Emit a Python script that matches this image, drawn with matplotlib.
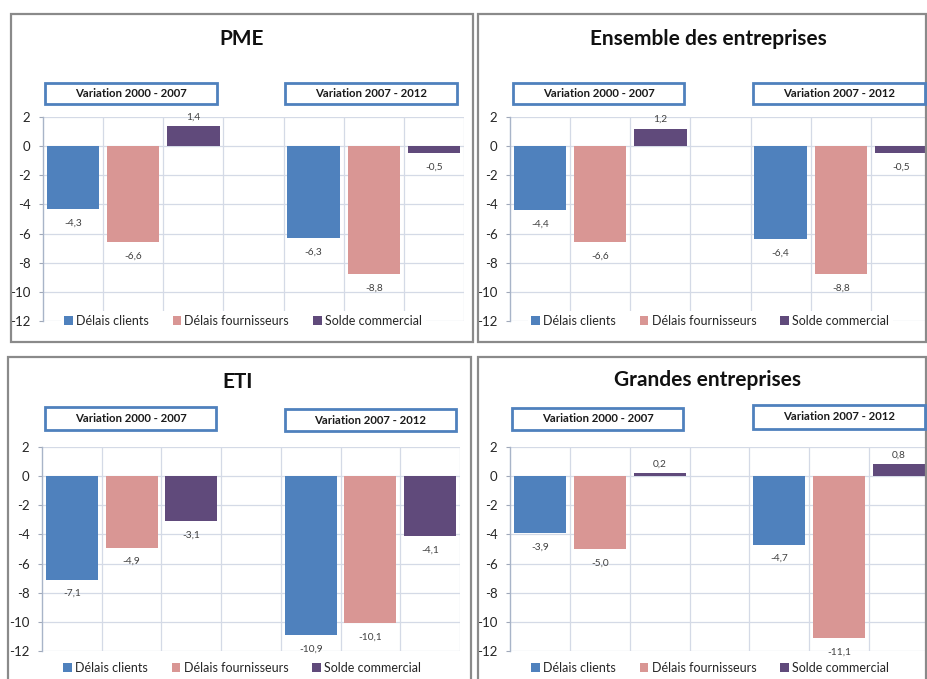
import matplotlib.pyplot as plt
from matplotlib.patches import Rectangle, Patch

plt.rcParams['font.family'] = ['Lato', 'DejaVu Sans']

W, H = 927, 679

series = ["Délais clients", "Délais fournisseurs", "Solde commercial"]
colors = ["#4f81bd", "#d99694", "#604a7b"]
periods = ["Variation 2000 - 2007", "Variation 2007 - 2012"]
yticks = [2, 0, -2, -4, -6, -8, -10, -12]

# three series per period: clients, fournisseurs, solde
pme = [-4.3, -6.6, 1.4, -6.3, -8.8, -0.5]
ensemble = [-4.4, -6.6, 1.2, -6.4, -8.8, -0.5]
eti = [-7.1, -4.9, -3.1, -10.9, -10.1, -4.1]
grandes = [-3.9, -5.0, 0.2, -4.7, -11.1, 0.8]

# layout in pixels (x0, y0, x1, y1), measured from the top-left corner
panels = [
    dict(title="PME", values=pme, border=(11, 14, 473, 342),
         plot=(43, 117, 464, 321), title_xy=(242, 39),
         boxes=[(45, 83, 217, 104), (285, 83, 457, 104)], legend_y=321, legend_x=243),
    dict(title="Ensemble des entreprises", values=ensemble, border=(478, 14, 926, 342),
         plot=(510, 117, 931, 321), title_xy=(708, 39),
         boxes=[(513, 83, 684, 104), (753, 83, 925, 104)], legend_y=321, legend_x=710),
    dict(title="ETI", values=eti, border=(8, 357, 471, 690),
         plot=(42, 447, 460, 651), title_xy=(238, 382),
         boxes=[(45, 407, 216, 430), (285, 409, 456, 431)], legend_y=668, legend_x=242),
    dict(title="Grandes entreprises", values=grandes, border=(478, 357, 926, 690),
         plot=(510, 447, 929, 651), title_xy=(707, 380),
         boxes=[(512, 408, 683, 430), (753, 405, 925, 429)], legend_y=668, legend_x=710),
]

positions = [0, 1, 2, 4, 5, 6]
bar_colors = colors + colors


def fx(x):
    return x / W


def fy(y):
    return 1 - y / H


def fmt(v):
    return f"{v:.1f}".replace(".", ",")


fig = plt.figure(figsize=(W / 100, H / 100), dpi=100)

for p in panels:
    bx0, by0, bx1, by1 = p["border"]
    fig.patches.append(Rectangle((fx(bx0), fy(by1)), fx(bx1 - bx0), (by1 - by0) / H,
                                 transform=fig.transFigure, fill=False,
                                 edgecolor="#8a8a8a", linewidth=1.6, zorder=0))

    x0, y0, x1, y1 = p["plot"]
    ax = fig.add_axes([fx(x0), fy(y1), fx(x1 - x0), (y1 - y0) / H])
    ax.set_xlim(-0.5, 6.5)
    ax.set_ylim(-12, 2)

    bars = ax.bar(positions, p["values"], width=0.87, color=bar_colors, zorder=3)
    for b, v in zip(bars, p["values"]):
        off = 9 if v >= 0 else -14
        ax.annotate(fmt(v), (b.get_x() + b.get_width() / 2, v),
                    xytext=(0, off), textcoords="offset pixels",
                    ha="center", va="center", fontsize=7.3, color="#404040", zorder=4)

    ax.set_xticks([0.5, 1.5, 2.5, 3.5, 4.5, 5.5, 6.5])
    ax.set_xticklabels([])
    ax.set_yticks(yticks)
    ax.set_yticklabels([str(t) for t in yticks])
    ax.tick_params(axis="x", length=0)
    ax.tick_params(axis="y", length=3, color="#a0a8b8", labelsize=9.5,
                   labelcolor="#262626", pad=6)
    ax.grid(True, color="#d4dae6", linewidth=0.9, zorder=0)
    for side in ["top", "right", "bottom"]:
        ax.spines[side].set_visible(False)
    ax.spines["left"].set_color("#a8b4c8")
    ax.spines["left"].set_linewidth(1.0)

    fig.text(fx(p["title_xy"][0]), fy(p["title_xy"][1]), p["title"],
             ha="center", va="center", fontsize=15, fontweight="bold", color="#111111")

    for (rx0, ry0, rx1, ry1), label in zip(p["boxes"], periods):
        fig.patches.append(Rectangle((fx(rx0), fy(ry1)), fx(rx1 - rx0), (ry1 - ry0) / H,
                                     transform=fig.transFigure, facecolor="white",
                                     edgecolor="#4f81bd", linewidth=2.0, zorder=1))
        fig.text(fx((rx0 + rx1) / 2), fy((ry0 + ry1) / 2), label,
                 ha="center", va="center", fontsize=8.2, fontweight="bold", color="#1a1a1a")

    handles = [Patch(facecolor=c, edgecolor="none") for c in colors]
    leg = ax.legend(handles, series, loc="center",
                    bbox_to_anchor=(fx(p["legend_x"]), fy(p["legend_y"])),
                    bbox_transform=fig.transFigure, ncol=3, frameon=True,
                    fontsize=9, handlelength=0.7, handleheight=0.7,
                    handletextpad=0.25, columnspacing=1.9, borderpad=0.3,
                    labelcolor="#262626")
    leg.get_frame().set_facecolor("white")
    leg.get_frame().set_edgecolor("none")
    leg.get_frame().set_alpha(1)
    leg.set_zorder(5)

fig.savefig("out.png", dpi=100)
